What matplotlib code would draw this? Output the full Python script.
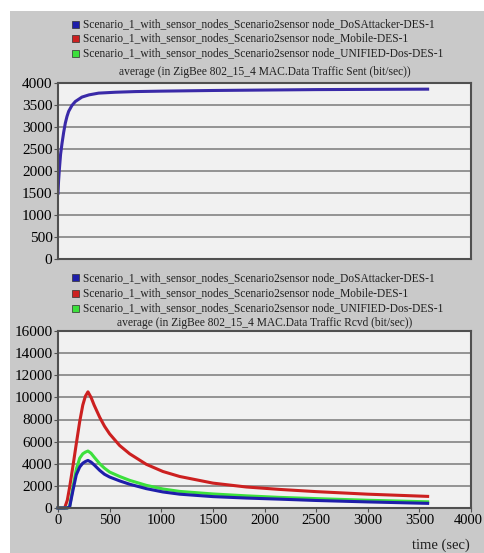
import numpy as np
from matplotlib import pyplot as plt
from matplotlib.patches import Rectangle
from matplotlib.transforms import ScaledTranslation

plt.rcParams['font.family'] = ['Liberation Serif', 'DejaVu Serif']

## donnees

series_names = ['Scenario_1_with_sensor_nodes_Scenario2sensor node_DoSAttacker-DES-1',
                'Scenario_1_with_sensor_nodes_Scenario2sensor node_Mobile-DES-1',
                'Scenario_1_with_sensor_nodes_Scenario2sensor node_UNIFIED-Dos-DES-1']
title_sent = 'average (in ZigBee 802_15_4 MAC.Data Traffic Sent (bit/sec))'
title_rcvd = 'average (in ZigBee 802_15_4 MAC.Data Traffic Rcvd (bit/sec))'

# trafic envoye (DoSAttacker)
t_sent = [0, 5, 13, 25, 39, 55, 71, 87, 103, 135, 168, 232, 300, 394, 555, 750, 1000, 1500, 2000, 2500, 3000, 3580]
sent_dos = [1495, 1750, 2030, 2380, 2630, 2880, 3090, 3240, 3355, 3490, 3580, 3680, 3730, 3770, 3790, 3805,
            3815, 3830, 3840, 3850, 3855, 3860]

# trafic recu
t_rcvd = [0, 64, 90, 113, 145, 177, 210, 240, 265, 290, 320, 350, 404, 450, 500, 597, 694, 855, 1016, 1178,
          1500, 1823, 2146, 2500, 3000, 3580]
rcvd_mobile = [0, 0, 700, 1900, 3800, 5800, 7800, 9300, 10100, 10500, 10000, 9300, 8200, 7400, 6700, 5650,
               4900, 3950, 3300, 2850, 2250, 1900, 1680, 1480, 1250, 1050]
rcvd_dos = [0, 0, 0, 100, 1600, 3000, 3700, 4050, 4200, 4300, 4150, 3900, 3400, 3050, 2800, 2450, 2150,
            1750, 1450, 1250, 1030, 900, 800, 680, 550, 420]
rcvd_unified = [0, 0, 0, 150, 1900, 3500, 4500, 4900, 5050, 5150, 4950, 4600, 4000, 3600, 3250, 2850, 2500,
                2050, 1720, 1500, 1270, 1100, 960, 850, 700, 560]

colors = ['#1e1eaa', '#cc2020', '#3ce03c']

## figure

fig = plt.figure(figsize=(4.84, 5.53), dpi=100)
fig.patch.set_facecolor('white')
fig.patches.append(Rectangle((10/484, 0), 1, 1 - 11/553, transform=fig.transFigure,
                             facecolor='#c9c9c9', edgecolor='none', zorder=-10))

def panel(rect, legend_y, title_y, title):
    ax = fig.add_axes(rect)
    ax.set_facecolor('#f1f1f1')
    for s in ax.spines.values():
        s.set_color('#505050')
        s.set_linewidth(1.5)
    ax.grid(axis='y', color='#7a7a7a', linewidth=1.1)
    ax.set_axisbelow(True)
    ax.tick_params(labelsize=11, length=3, color='#505050', pad=1)
    for i in range(3):
        y = 1 - legend_y[i] / 553
        fig.patches.append(Rectangle((72/484, y - 3.5/553), 7/484, 7/553, transform=fig.transFigure,
                                     facecolor=colors[i], edgecolor='#303030', linewidth=0.5))
        fig.text(83/484, y, series_names[i], fontsize=8.3, va='center', ha='left', color='#202020')
    fig.text(rect[0] + rect[2] / 2, 1 - title_y / 553, title, fontsize=8.3, ha='center', va='center', color='#202020')
    return ax

ax1 = panel([58/484, 1 - 259/553, 413/484, 176/553], [24, 38, 53], 72, title_sent)
ax1.plot(t_sent, sent_dos, color='#3a2aa8', linewidth=2.2)
ax1.set_xlim(0, 4000)
ax1.set_ylim(0, 4000)
ax1.set_yticks(np.arange(0, 4001, 500))
ax1.set_xticks([])

ax2 = panel([58/484, 1 - 508/553, 413/484, 177/553], [278, 293, 308], 323, title_rcvd)
ax2.plot(t_rcvd, rcvd_mobile, color=colors[1], linewidth=2.2, clip_on=False)
ax2.plot(t_rcvd, rcvd_unified, color=colors[2], linewidth=2.2, clip_on=False)
ax2.plot(t_rcvd, rcvd_dos, color=colors[0], linewidth=2.2, clip_on=False)
ax2.set_xlim(0, 4000)
ax2.set_ylim(0, 16000)
ax2.set_yticks(np.arange(0, 16001, 2000))
ax2.set_xticks(np.arange(0, 4001, 500))
ax2.tick_params(axis='x', labelsize=10.5)
# le dernier label colle au bord droit
last = ax2.get_xticklabels()[-1]
last.set_transform(last.get_transform() + ScaledTranslation(-3/100, 0, fig.dpi_scale_trans))

fig.text(470/484, 1 - 545/553, 'time (sec)', fontsize=10.5, ha='right', va='center', color='#202020')

plt.savefig('out.png', dpi=100)
